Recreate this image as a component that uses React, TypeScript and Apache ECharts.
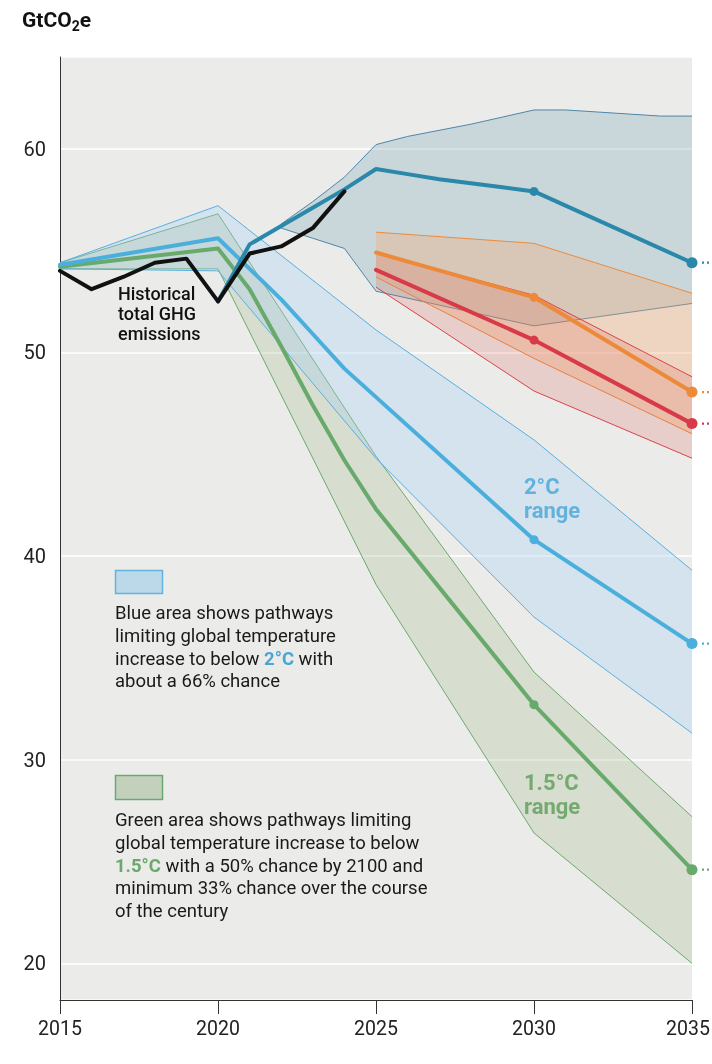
import React, { useEffect, useRef } from 'react';
import * as echarts from 'echarts';

const N = null;
const years = [2015, 2016, 2017, 2018, 2019, 2020, 2021, 2022, 2023, 2024, 2025, 2026, 2027, 2028, 2029, 2030, 2031, 2032, 2033, 2034, 2035];

const historical = [54.0, 53.1, 53.7, 54.4, 54.6, 52.5, 54.85, 55.2, 56.1, 57.9, N, N, N, N, N, N, N, N, N, N, N];

const currentPolicies = [N, N, N, N, N, 52.5, 55.3, 56.2, 57.1, 58.0, 59.0, 58.75, 58.5, 58.3, 58.1, 57.9, N, N, N, N, 54.4];
const currentPoliciesHigh = [N, N, N, N, N, N, N, 56.3, 57.4, 58.6, 60.2, 60.6, 60.9, 61.2, 61.55, 61.9, 61.9, 61.8, 61.7, 61.6, 61.6];
const currentPoliciesLow = [N, N, N, N, N, N, N, 56.1, 55.6, 55.1, 53.0, N, N, N, N, 51.3, N, N, N, N, 52.4];

const unconditionalNdc = [N, N, N, N, N, N, N, N, N, N, 54.9, N, N, N, N, 52.7, N, N, N, N, 48.05];
const unconditionalHigh = [N, N, N, N, N, N, N, N, N, N, 55.9, N, N, N, N, 55.35, N, N, N, N, 52.9];
const unconditionalLow = [N, N, N, N, N, N, N, N, N, N, 53.7, N, N, N, N, 49.7, N, N, N, N, 46.0];

const conditionalNdc = [N, N, N, N, N, N, N, N, N, N, 54.05, N, N, N, N, 50.6, N, N, N, N, 46.5];
const conditionalHigh = [N, N, N, N, N, N, N, N, N, N, 54.9, N, N, N, N, 52.8, N, N, N, N, 48.8];
const conditionalLow = [N, N, N, N, N, N, N, N, N, N, 53.2, N, N, N, N, 48.1, N, N, N, N, 44.8];

const below2 = [54.3, N, N, N, N, 55.6, 54.1, 52.6, 50.9, 49.2, 47.8, N, N, N, N, 40.8, N, N, N, N, 35.7];
const below2High = [54.4, N, N, N, N, 57.2, N, N, N, N, 51.1, N, N, N, N, 45.7, N, N, N, N, 39.3];
const below2Low = [54.1, N, N, N, N, 54.0, N, N, N, N, 44.8, N, N, N, N, 37.0, N, N, N, N, 31.3];

const below15 = [54.2, N, N, N, N, 55.1, 53.1, 50.3, 47.4, 44.7, 42.3, N, N, N, N, 32.7, N, N, N, N, 24.6];
const below15High = [54.4, N, N, N, N, 56.8, N, N, N, N, 44.9, N, N, N, N, 34.3, N, N, N, N, 27.2];
const below15Low = [54.1, N, N, N, N, 54.1, N, N, N, N, 38.6, N, N, N, N, 26.4, N, N, N, N, 20.0];

const xTicks = [2015, 2020, 2025, 2030, 2035];

const FONT = 'Roboto, "Noto Sans", sans-serif';

const pts = (arr: (number | null)[]) =>
  years.map((y, i) => (arr[i] == null ? null : [y, arr[i] as number])).filter((p) => p !== null) as number[][];

function band(name: string, upper: (number | null)[], lower: (number | null)[], fill: string, stroke: string, z: number) {
  const up = pts(upper);
  const lo = pts(lower);
  return {
    type: 'custom',
    name,
    z,
    silent: true,
    clip: true,
    data: [up[0]],
    encode: { x: 0, y: 1 },
    renderItem: (params: any, api: any) => {
      const u = up.map((p) => api.coord(p));
      const l = lo.map((p) => api.coord(p));
      return {
        type: 'group',
        children: [
          { type: 'polygon', shape: { points: [...u, ...l.slice().reverse()] }, style: { fill, stroke: 'none' } },
          { type: 'polyline', shape: { points: u }, style: { stroke, lineWidth: 1, fill: 'none' } },
          { type: 'polyline', shape: { points: l }, style: { stroke, lineWidth: 1, fill: 'none' } },
        ],
      };
    },
  };
}

function line(name: string, arr: (number | null)[], color: string, width: number, z: number, dots = true) {
  return {
    type: 'line',
    name,
    z,
    data: pts(arr),
    showSymbol: dots,
    symbol: 'circle',
    symbolSize: (v: number[]) => (v[0] === 2030 ? 9 : v[0] === 2035 ? 11 : 0),
    lineStyle: { color, width, join: 'round', cap: 'round' },
    itemStyle: { color, borderWidth: 0 },
    silent: true,
  };
}

function tail(arr: (number | null)[], color: string) {
  const last = arr[arr.length - 1] as number;
  const x = years[years.length - 1];
  return {
    type: 'custom',
    z: 5,
    clip: false,
    silent: true,
    data: [[x, last]],
    encode: { x: 0, y: 1 },
    renderItem: (params: any, api: any) => {
      const p = api.coord([api.value(0), api.value(1)]);
      return {
        type: 'line',
        shape: { x1: p[0] + 10, y1: p[1], x2: p[0] + 17, y2: p[1] },
        style: { stroke: color, lineWidth: 2.2, lineDash: [2, 3] },
      };
    },
  };
}

export default function App() {
  const ref = useRef<HTMLDivElement>(null);
  useEffect(() => {
    if (!ref.current) return;
    const chart = echarts.init(ref.current, undefined, { renderer: 'svg' });
    const teal = '#2a88aa';
    const lightBlue = '#4aafdc';
    const green = '#68a96c';
    const orange = '#ec8a3a';
    const red = '#d83a48';
    const lastYear = xTicks[xTicks.length - 1];
    chart.setOption({
      animation: false,
      textStyle: { fontFamily: FONT },
      grid: {
        left: 60,
        right: 20,
        top: 57,
        bottom: 64,
        show: true,
        backgroundColor: '#ebecea',
        borderWidth: 0,
        containLabel: false,
        outerBoundsMode: 'none',
      },
      xAxis: {
        type: 'value',
        min: xTicks[0],
        max: lastYear,
        interval: 5,
        axisLine: { show: true, lineStyle: { color: '#333', width: 1 } },
        axisTick: { show: true, length: 14, lineStyle: { color: '#333' } },
        axisLabel: {
          fontSize: 19.5,
          color: '#222',
          margin: 18,
          fontFamily: FONT,
          formatter: (v: number) => (v === lastYear ? '{r|' + v + '}' : String(v)),
          rich: { r: { fontSize: 19.5, color: '#222', fontFamily: FONT, padding: [0, 8, 0, 0] } },
        },
        splitLine: { show: false },
      },
      yAxis: {
        type: 'value',
        min: 18.2,
        max: 64.5,
        splitNumber: 5,
        axisLine: { show: true, lineStyle: { color: '#333', width: 1 } },
        axisTick: { show: false },
        axisLabel: {
          fontSize: 20,
          color: '#222',
          margin: 14,
          fontFamily: FONT,
          showMinLabel: false,
          showMaxLabel: false,
          formatter: (v: number) => (Math.abs(v % 10) < 1e-6 ? String(v) : ''),
        },
        splitLine: { show: true, lineStyle: { color: '#ffffff', width: 1.5 } },
      },
      series: [
        band('1.5°C band', below15High, below15Low, 'rgba(150,175,120,0.24)', '#6fa86f', 1),
        band('2°C band', below2High, below2Low, 'rgba(160,205,245,0.3)', '#5aaee0', 1),
        band('Current policies band', currentPoliciesHigh, currentPoliciesLow, 'rgba(120,160,175,0.28)', '#4f86a8', 1),
        band('Unconditional NDC band', unconditionalHigh, unconditionalLow, 'rgba(245,165,105,0.32)', '#ec8a3c', 1),
        band('Conditional NDC band', conditionalHigh, conditionalLow, 'rgba(220,90,80,0.2)', '#d9434b', 1),
        line('1.5°C', below15, green, 4, 3),
        line('2°C', below2, lightBlue, 4, 3),
        line('Current policies', currentPolicies, teal, 4, 3),
        line('Unconditional NDCs', unconditionalNdc, orange, 4, 3),
        line('Conditional NDCs', conditionalNdc, red, 4, 3),
        line('Historical', historical, '#111111', 4, 4, false),
        tail(below15, green),
        tail(below2, lightBlue),
        tail(currentPolicies, teal),
        tail(unconditionalNdc, orange),
        tail(conditionalNdc, red),
      ],
      graphic: [
        {
          type: 'text',
          left: 22,
          top: 7,
          style: {
            text: '{a|GtCO}{s|2}{a|e}',
            rich: {
              a: { fontSize: 21, fontWeight: 'bold', fill: '#111', fontFamily: FONT, lineHeight: 28 },
              s: { fontSize: 14, fontWeight: 'bold', fill: '#111', fontFamily: FONT, padding: [12, 0, 0, 0], lineHeight: 28 },
            },
          },
        },
        {
          type: 'text',
          left: 118,
          top: 283,
          style: {
            text: 'Historical\ntotal GHG\nemissions',
            fontSize: 18,
            fontWeight: 500,
            lineHeight: 20,
            fill: '#111',
            fontFamily: FONT,
          },
        },
        {
          type: 'text',
          left: 524,
          top: 475,
          style: { text: '2°C\nrange', fontSize: 22, fontWeight: 'bold', lineHeight: 23.5, fill: '#48a6d3', fontFamily: FONT },
        },
        {
          type: 'text',
          left: 524,
          top: 771,
          style: { text: '1.5°C\nrange', fontSize: 22, fontWeight: 'bold', lineHeight: 23.5, fill: '#6aa86c', fontFamily: FONT },
        },
        {
          type: 'rect',
          shape: { x: 115.5, y: 570.5, width: 47, height: 23 },
          style: { fill: '#bcd9ea', stroke: '#62b4de', lineWidth: 1.5 },
        },
        {
          type: 'rect',
          shape: { x: 115.5, y: 775.5, width: 47, height: 24 },
          style: { fill: '#c3d1bc', stroke: '#6aaa6f', lineWidth: 1.5 },
        },
        {
          type: 'text',
          left: 115,
          top: 602,
          style: {
            text: 'Blue area shows pathways\nlimiting global temperature\nincrease to below {b|2°C} with\nabout a 66% chance',
            fontSize: 18.5,
            lineHeight: 22.7,
            fill: '#1a1a1a',
            fontFamily: FONT,
            rich: {
              b: { fontSize: 18.5, fontWeight: 'bold', fill: '#48a6d3', fontFamily: FONT, lineHeight: 22.7 },
            },
          },
        },
        {
          type: 'text',
          left: 115,
          top: 809,
          style: {
            text: 'Green area shows pathways limiting\nglobal temperature increase to below\n{g|1.5°C} with a 50% chance by 2100 and\nminimum 33% chance over the course\nof the century',
            fontSize: 18.5,
            lineHeight: 22.6,
            fill: '#1a1a1a',
            fontFamily: FONT,
            rich: {
              g: { fontSize: 18.5, fontWeight: 'bold', fill: '#6aa86c', fontFamily: FONT, lineHeight: 22.6 },
            },
          },
        },
      ],
    });
    return () => chart.dispose();
  }, []);
  return <div ref={ref} style={{ position: 'fixed', left: 0, top: 0, width: 712, height: 1064 }} />;
}
